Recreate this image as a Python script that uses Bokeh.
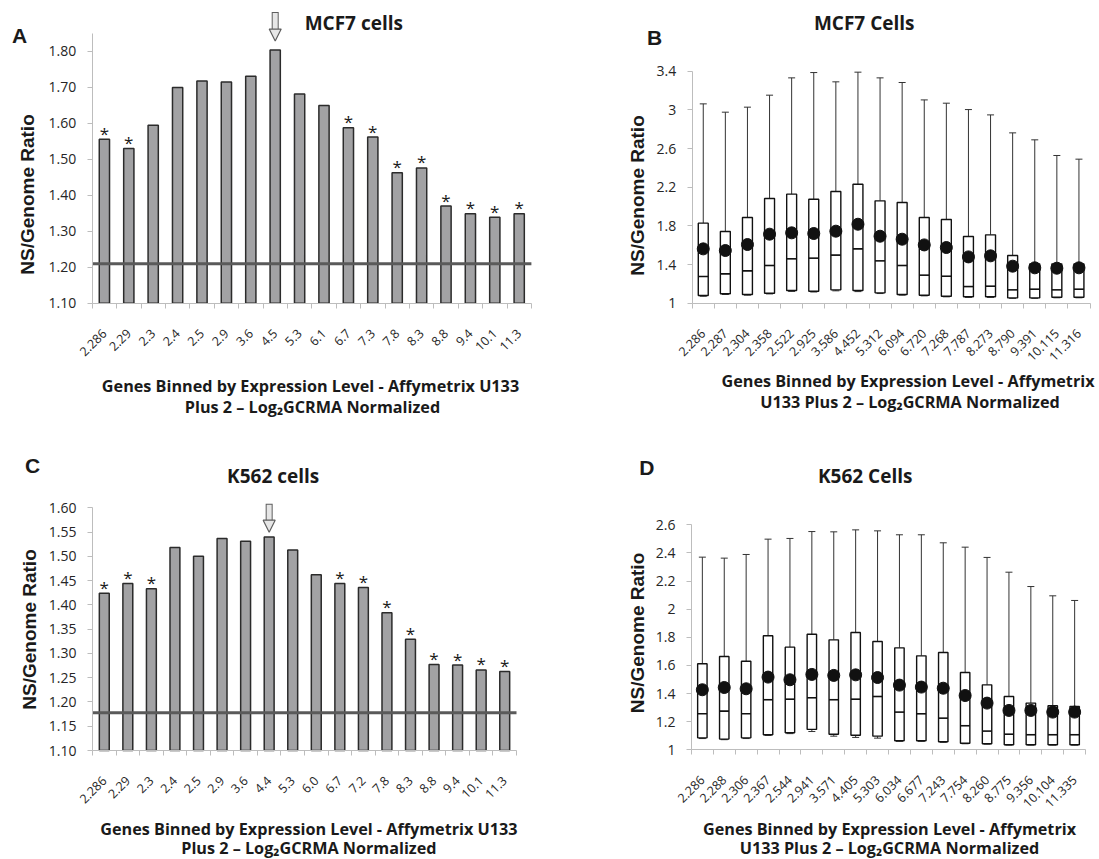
import math
from bokeh.plotting import figure
from bokeh.models import (Range1d, FixedTicker, CustomJSTickFormatter, NumeralTickFormatter,
                          Label, Arrow, NormalHead)
from bokeh.layouts import column, row
from bokeh.embed import file_html
from bokeh.resources import INLINE
from bokeh.core.properties import value

# ---------------- data ----------------
a_labels = ["2.286", "2.29", "2.3", "2.4", "2.5", "2.9", "3.6", "4.5", "5.3", "6.1",
            "6.7", "7.3", "7.8", "8.3", "8.8", "9.4", "10.1", "11.3"]
a_values = [1.556, 1.530, 1.595, 1.700, 1.718, 1.715, 1.731, 1.804, 1.682, 1.650,
            1.588, 1.562, 1.463, 1.476, 1.370, 1.349, 1.339, 1.349]
a_star = [1, 1, 0, 0, 0, 0, 0, 0, 0, 0, 1, 1, 1, 1, 1, 1, 1, 1]
a_genome = 1.21
a_arrow_bin = 7
a_yticks = [1.10, 1.20, 1.30, 1.40, 1.50, 1.60, 1.70, 1.80]

c_labels = ["2.286", "2.29", "2.3", "2.4", "2.5", "2.9", "3.6", "4.4", "5.3", "6.0",
            "6.7", "7.2", "7.8", "8.3", "8.8", "9.4", "10.1", "11.3"]
c_values = [1.424, 1.444, 1.433, 1.518, 1.500, 1.537, 1.531, 1.540, 1.513, 1.462,
            1.444, 1.436, 1.384, 1.329, 1.277, 1.276, 1.266, 1.263]
c_star = [1, 1, 1, 0, 0, 0, 0, 0, 0, 0, 1, 1, 1, 1, 1, 1, 1, 1]
c_genome = 1.178
c_arrow_bin = 7
c_yticks = [1.10, 1.15, 1.20, 1.25, 1.30, 1.35, 1.40, 1.45, 1.50, 1.55, 1.60]

b_labels = ["2.286", "2.287", "2.304", "2.358", "2.522", "2.925", "3.586", "4.452", "5.312",
            "6.094", "6.720", "7.268", "7.787", "8.273", "8.790", "9.391", "10.115", "11.316"]
b_max = [3.062, 2.976, 3.028, 3.152, 3.331, 3.386, 3.290, 3.390, 3.331,
         3.283, 3.103, 3.069, 3.003, 2.948, 2.762, 2.690, 2.528, 2.490]
b_q3 = [1.828, 1.741, 1.886, 2.083, 2.128, 2.076, 2.155, 2.231, 2.059,
        2.041, 1.886, 1.866, 1.690, 1.707, 1.493, 1.407, 1.407, 1.407]
b_med = [1.276, 1.303, 1.334, 1.390, 1.459, 1.466, 1.497, 1.562, 1.438,
         1.390, 1.290, 1.279, 1.172, 1.176, 1.138, 1.145, 1.138, 1.145]
b_q1 = [1.079, 1.097, 1.090, 1.103, 1.131, 1.124, 1.138, 1.131, 1.107,
        1.090, 1.083, 1.072, 1.066, 1.066, 1.055, 1.055, 1.062, 1.062]
b_min = [1.072, 1.090, 1.083, 1.096, 1.122, 1.116, 1.128, 1.120, 1.100,
         1.083, 1.076, 1.066, 1.060, 1.060, 1.050, 1.050, 1.056, 1.056]
b_mean = [1.562, 1.545, 1.607, 1.714, 1.728, 1.721, 1.745, 1.817, 1.693,
          1.662, 1.603, 1.576, 1.479, 1.490, 1.383, 1.366, 1.362, 1.366]
b_yticks = [1.0, 1.4, 1.8, 2.2, 2.6, 3.0, 3.4]

d_labels = ["2.286", "2.288", "2.306", "2.367", "2.544", "2.941", "3.571", "4.405", "5.303",
            "6.034", "6.677", "7.243", "7.754", "8.260", "8.775", "9.356", "10.104", "11.335"]
d_max = [2.370, 2.363, 2.389, 2.498, 2.503, 2.552, 2.550, 2.564, 2.557,
         2.529, 2.529, 2.472, 2.441, 2.368, 2.263, 2.161, 2.095, 2.062]
d_q3 = [1.612, 1.664, 1.630, 1.811, 1.730, 1.822, 1.782, 1.834, 1.770,
        1.725, 1.668, 1.692, 1.550, 1.462, 1.379, 1.332, 1.313, 1.308]
d_med = [1.256, 1.275, 1.256, 1.356, 1.360, 1.370, 1.356, 1.360, 1.379,
         1.268, 1.256, 1.225, 1.171, 1.133, 1.111, 1.107, 1.107, 1.107]
d_q1 = [1.085, 1.076, 1.085, 1.107, 1.121, 1.145, 1.111, 1.104, 1.097,
        1.064, 1.064, 1.057, 1.047, 1.043, 1.036, 1.036, 1.036, 1.036]
d_min = [1.080, 1.072, 1.080, 1.102, 1.115, 1.130, 1.097, 1.088, 1.083,
         1.060, 1.060, 1.053, 1.043, 1.040, 1.033, 1.033, 1.033, 1.033]
d_mean = [1.427, 1.443, 1.434, 1.517, 1.498, 1.536, 1.529, 1.533, 1.514,
          1.460, 1.446, 1.438, 1.386, 1.332, 1.280, 1.280, 1.268, 1.268]
d_yticks = [1.0, 1.2, 1.4, 1.6, 1.8, 2.0, 2.2, 2.4, 2.6]

x_title1_short = "Genes Binned by Expression Level - Affymetrix U133"
x_title2_short = "Plus 2 \u2013 Log\u2082GCRMA Normalized"
x_title1_long = "Genes Binned by Expression Level - Affymetrix"
x_title2_long = "U133 Plus 2 \u2013 Log\u2082GCRMA Normalized"
y_title = "NS/Genome Ratio"

# ---------------- styles ----------------
TXT = "#1a1a1a"
TICK_TXT = "#262626"
AX = "#bdbdbd"
FONT = "Open Sans"
ARIAL = "Liberation Sans"
BASE_SHIFT = 0.4   # em shift so that the given y is the visual baseline


class Panel:
    """A figure whose frame is the whole canvas; the plot area sits inside it."""

    def __init__(self, cx, cy, cw, ch, pl, pr, pt, pb, labels, y0, y1, yticks, yfmt):
        n = len(labels)
        self.cx, self.cy, self.cw, self.ch = cx, cy, cw, ch
        sx = (pr - pl) / n
        sy = (pb - pt) / (y1 - y0)
        self.sy = sy
        xr = Range1d(0.5 - (pl - cx) / sx, n + 0.5 + (cx + cw - pr) / sx)
        yr = Range1d(y0 - (cy + ch - pb) / sy, y1 + (pt - cy) / sy)
        p = figure(width=cw, height=ch, x_range=xr, y_range=yr, output_backend="svg",
                   toolbar_location=None, title=None, min_border=0,
                   min_border_left=0, min_border_right=0, min_border_top=0,
                   min_border_bottom=0)
        p.outline_line_color = None
        p.grid.visible = False
        p.background_fill_color = "white"
        p.border_fill_color = "white"
        self.pos = list(range(1, n + 1))
        self.n = n
        bounds = [i + 0.5 for i in range(0, n + 1)]
        xa = p.xaxis[0]
        xa.fixed_location = y0
        xa.bounds = (0.5, n + 0.5)
        xa.ticker = FixedTicker(ticks=self.pos, minor_ticks=bounds)
        xa.formatter = CustomJSTickFormatter(args=dict(labels=labels),
                                             code="return labels[index];")
        xa.major_label_orientation = math.pi / 4
        xa.major_tick_line_color = None
        xa.major_tick_out = 0
        xa.major_tick_in = 0
        xa.minor_tick_line_color = AX
        xa.minor_tick_out = 5
        xa.minor_tick_in = 0
        xa.axis_line_color = AX
        xa.major_label_standoff = 23
        xa.major_label_text_font = FONT
        xa.major_label_text_font_size = "12.5px"
        xa.major_label_text_color = TICK_TXT
        ya = p.yaxis[0]
        ya.fixed_location = 0.5
        ya.bounds = (y0, y1)
        ya.ticker = FixedTicker(ticks=yticks)
        ya.formatter = yfmt
        ya.axis_line_color = AX
        ya.major_tick_line_color = AX
        ya.major_tick_out = 5
        ya.major_tick_in = 0
        ya.minor_tick_line_color = None
        ya.major_label_standoff = 11
        ya.major_label_text_font = FONT
        ya.major_label_text_font_size = "14px"
        ya.major_label_text_color = TICK_TXT
        self.p = p
        self.y0, self.y1 = y0, y1

    def text(self, X, Y, text, size, font=FONT, bold=True, rotated=False, color=TXT):
        if rotated:
            X -= BASE_SHIFT * size
        else:
            Y -= BASE_SHIFT * size
        self.p.add_layout(Label(x=X - self.cx, y=(self.cy + self.ch) - Y,
                                x_units="screen", y_units="screen", text=text,
                                text_font=font, text_font_size=f"{size}px",
                                text_font_style="bold" if bold else "normal",
                                text_align="center", text_baseline="alphabetic",
                                angle=math.pi / 2 if rotated else 0.0, text_color=color))

    def bars(self, vals, stars, genome, arrow_bin, gap, length):
        p, pos = self.p, self.pos
        p.vbar(x=pos, top=vals, bottom=self.y0, width=0.42, fill_color="#a2a2a4",
               line_color="#2b2b2b", line_width=1.5)
        p.segment(x0=[0.5], y0=[genome], x1=[self.n + 0.5], y1=[genome],
                  line_color="#5a5a5a", line_width=3)
        sx = [x for x, s in zip(pos, stars) if s]
        sy = [v for v, s in zip(vals, stars) if s]
        p.text(x=sx, y=sy, text=["*"] * len(sx), text_align="center",
               text_baseline="alphabetic", y_offset=-6, text_font=value(FONT),
               text_font_size=value("17px"), text_color=TXT)
        ppu = self.sy
        xa = pos[arrow_bin]
        tip = vals[arrow_bin] + gap / ppu
        top = tip + length / ppu
        hb = tip + 10 / ppu
        p.add_layout(Arrow(end=None, x_start=xa, y_start=top, x_end=xa, y_end=hb,
                           line_width=7, line_color="#5e5e5e", line_cap="butt"))
        p.add_layout(Arrow(end=None, x_start=xa, y_start=top - 1 / ppu, x_end=xa, y_end=hb,
                           line_width=5, line_color="#e6e6e6", line_cap="butt"))
        p.add_layout(Arrow(end=NormalHead(size=12, fill_color="#e6e6e6", line_color="#5e5e5e",
                                          line_width=1.2),
                           x_start=xa, y_start=hb + 2 / ppu, x_end=xa, y_end=tip, line_alpha=0))

    def boxes(self, mx, q3, med, q1, mn, mean, bw):
        p, pos = self.p, self.pos
        p.segment(x0=pos, y0=q3, x1=pos, y1=mx, line_color="#333333", line_width=1)
        p.segment(x0=pos, y0=mn, x1=pos, y1=q1, line_color="#333333", line_width=1)
        p.scatter(x=pos, y=mx, marker="dash", size=7, line_color="#333333", line_width=1)
        p.scatter(x=pos, y=mn, marker="dash", size=7, line_color="#333333", line_width=1)
        p.vbar(x=pos, bottom=q1, top=q3, width=bw, fill_color="white", line_color="#111111",
               line_width=1.4)
        p.segment(x0=[x - bw / 2 for x in pos], y0=med, x1=[x + bw / 2 for x in pos], y1=med,
                  line_color="#111111", line_width=1.6)
        p.scatter(x=pos, y=mean, size=12, fill_color="#111111", line_color="#111111")


fmt2 = NumeralTickFormatter(format="0.00")
fmt_g = CustomJSTickFormatter(code="return (Math.round(tick*10)/10).toString();")
XT = 16.2

# ---------------- panel A ----------------
A = Panel(0, 0, 549, 428, 91.7, 530.9, 33.0, 302.7, a_labels, 1.10, 1.85, a_yticks, fmt2)
A.bars(a_values, a_star, a_genome, a_arrow_bin, 9, 29)
A.text(19.1, 43.5, "A", 21, font=ARIAL)
A.text(353.3, 30, "MCF7 cells", 19)
A.text(34.1, 194, y_title, 19, font=ARIAL, rotated=True)
A.text(310, 391.5, x_title1_short, XT)
A.text(312, 413, x_title2_short, XT)

# ---------------- panel B ----------------
B = Panel(549, 0, 549, 428, 691.7, 1089.5, 70.7, 302.7, b_labels, 1.0, 3.4, b_yticks, fmt_g)
B.boxes(b_max, b_q3, b_med, b_q1, b_min, b_mean, 0.45)
B.text(654, 45, "B", 21, font=ARIAL)
B.text(863.7, 30, "MCF7 Cells", 19)
B.text(644.7, 195, y_title, 19, font=ARIAL, rotated=True)
B.text(907.5, 386.7, x_title1_long, XT)
B.text(909.5, 408, x_title2_long, XT)

# ---------------- panel C ----------------
C = Panel(0, 428, 549, 430, 92.0, 516.0, 507.3, 750.0, c_labels, 1.10, 1.60, c_yticks, fmt2)
C.bars(c_values, c_star, c_genome, c_arrow_bin, 4.7, 28.4)
C.text(32, 473.3, "C", 21, font=ARIAL)
C.text(272.7, 483.3, "K562 cells", 19)
C.text(36.2, 629, y_title, 19, font=ARIAL, rotated=True)
C.text(308.4, 835, x_title1_short, XT)
C.text(308.4, 854, x_title2_short, XT)

# ---------------- panel D ----------------
D = Panel(549, 428, 549, 430, 690.9, 1085.1, 524.3, 749.3, d_labels, 1.0, 2.6, d_yticks, fmt_g)
D.boxes(d_max, d_q3, d_med, d_q1, d_min, d_mean, 0.43)
D.text(646.3, 475, "D", 21, font=ARIAL)
D.text(864.7, 483.3, "K562 Cells", 19)
D.text(644.7, 632.5, y_title, 19, font=ARIAL, rotated=True)
D.text(889, 835, x_title1_long, XT)
D.text(889, 854, x_title2_long, XT)

layout = column(row(A.p, B.p), row(C.p, D.p))
open("out.html", "w").write(file_html(layout, INLINE, "NS/Genome Ratio"))
